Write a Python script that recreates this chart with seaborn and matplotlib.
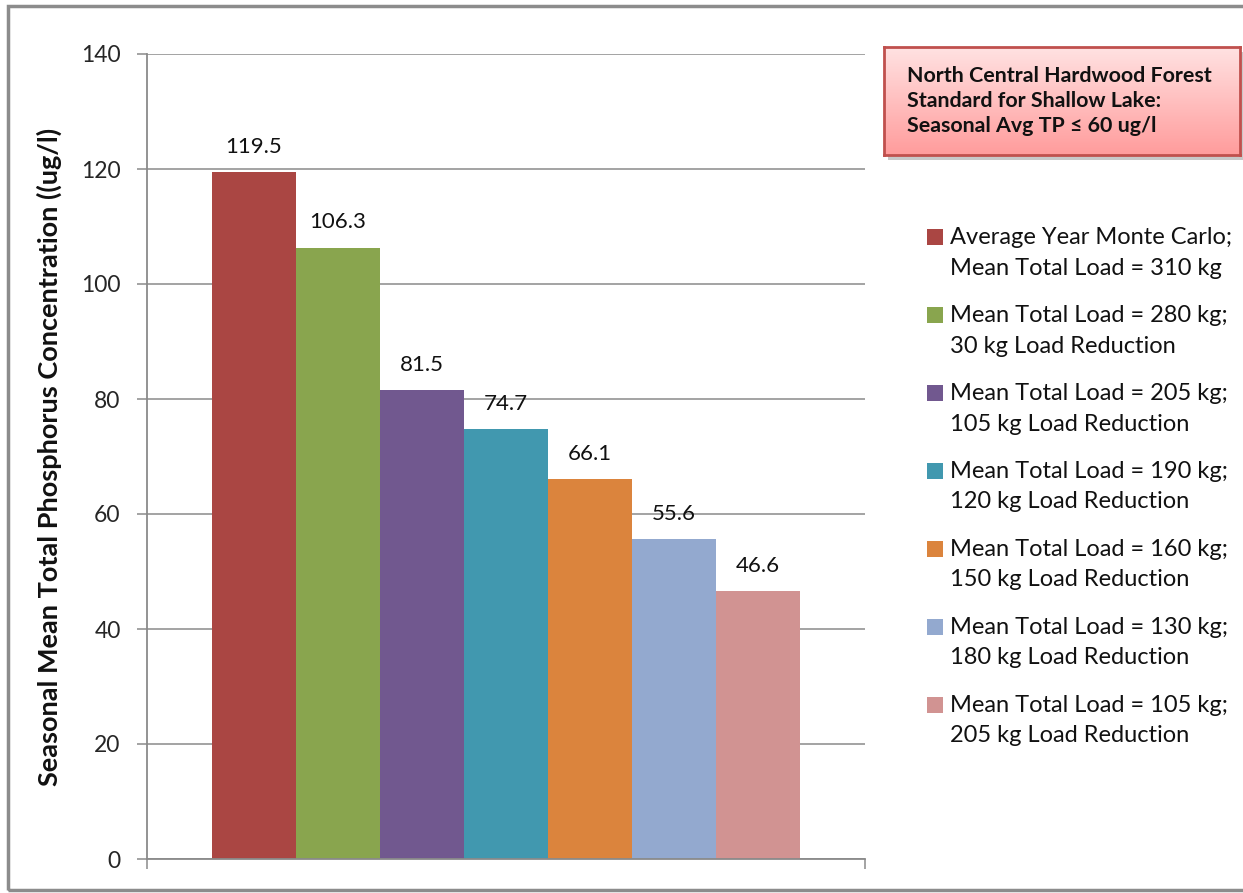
import numpy as np
import pandas as pd
import matplotlib
matplotlib.use("Agg")
import matplotlib.pyplot as plt
import matplotlib.patches as mpatches
from matplotlib.colors import LinearSegmentedColormap
import seaborn as sns

# data
scenarios = [
    "Average Year Monte Carlo;\nMean Total Load = 310 kg",
    "Mean Total Load = 280 kg;\n30 kg Load Reduction",
    "Mean Total Load = 205 kg;\n105 kg Load Reduction",
    "Mean Total Load = 190 kg;\n120 kg Load Reduction",
    "Mean Total Load = 160 kg;\n150 kg Load Reduction",
    "Mean Total Load = 130 kg;\n180 kg Load Reduction",
    "Mean Total Load = 105 kg;\n205 kg Load Reduction",
]
tp_conc = [119.5, 106.3, 81.5, 74.7, 66.1, 55.6, 46.6]
y_ticks = [0, 20, 40, 60, 80, 100, 120, 140]

bar_colors = ["#AA4643", "#89A54E", "#71588F", "#4198AF",
              "#DB843D", "#93A9CF", "#D19392"]

df = pd.DataFrame({"group": ["all"] * len(tp_conc),
                   "scenario": scenarios,
                   "tp": tp_conc})

sns.set_style("white")
plt.rcParams["font.family"] = ["Lato", "DejaVu Sans"]

W, H = 1243, 893
fig = plt.figure(figsize=(W / 100, H / 100), dpi=100)

# outer chart frame
fig.patches.append(mpatches.Rectangle((8 / W, 1 - 890 / H), 1.0, (890 - 6) / H,
                                      transform=fig.transFigure, fill=False,
                                      edgecolor="#8c8c8c", linewidth=2.5))

ax = fig.add_axes([147 / W, 1 - 859 / H, (865 - 147) / W, (859 - 54) / H])
sns.barplot(data=df, x="group", y="tp", hue="scenario", palette=bar_colors,
            hue_order=scenarios, width=0.82, saturation=1, ax=ax,
            linewidth=0, edgecolor="none", legend=False)

for c in ax.containers:
    ax.bar_label(c, fmt="%.1f", padding=11, fontsize=16, color="#111111")

ax.set_ylim(0, 140)
ax.set_xlim(-0.5, 0.5)
ax.set_yticks(y_ticks)
ax.set_xticks([-0.5, 0.5])
ax.set_xticklabels(["", ""])
ax.yaxis.grid(True, color="#8a8a8a", linewidth=1.1)
ax.set_axisbelow(True)
for s in ["top", "right"]:
    ax.spines[s].set_visible(False)
for s in ["left", "bottom"]:
    ax.spines[s].set_color("#8a8a8a")
    ax.spines[s].set_linewidth(1.3)
ax.tick_params(axis="y", length=7, width=1.1, color="#8a8a8a", pad=12,
               labelsize=16.5, left=True)
ax.tick_params(axis="x", length=7, width=1.1, color="#8a8a8a", bottom=True)
ax.set_xlabel("")
ax.set_ylabel("Seasonal Mean Total Phosphorus Concentration ((ug/l)",
              fontsize=19.5, fontweight="bold", color="#111111")
ax.yaxis.set_label_coords((62 - 147) / 718, (859 - 457) / 805)

# legend: square aligned with the first line of each two-line entry (Excel style)
for i, (lab, col) in enumerate(zip(scenarios, bar_colors)):
    y0 = 237 + 78 * i
    fig.patches.append(mpatches.Rectangle((927 / W, 1 - (y0 + 8) / H), 16 / W, 16 / H,
                                          transform=fig.transFigure,
                                          facecolor=col, edgecolor="none"))
    for j, line in enumerate(lab.split("\n")):
        fig.text(950 / W, 1 - (y0 + 31 * j) / H, line, ha="left", va="center",
                 fontsize=17, color="#111111")

# standard note box with pink gradient
shadow = fig.add_axes([(884 + 4) / W, 1 - (155 + 5) / H, (1243 - 884) / W, 108 / H])
shadow.set_facecolor("#c8c8c8")
shadow.set_xticks([]); shadow.set_yticks([])
for s in shadow.spines.values():
    s.set_visible(False)

box = fig.add_axes([884 / W, 1 - 155 / H, (1240 - 884) / W, 108 / H])
grad = np.linspace(0, 1, 100).reshape(-1, 1)
cmap = LinearSegmentedColormap.from_list("pink", ["#ffe2e2", "#ff9c9c"])
box.imshow(grad, aspect="auto", cmap=cmap, extent=[0, 1, 0, 1], origin="upper")
box.set_xticks([]); box.set_yticks([])
for s in box.spines.values():
    s.set_color("#c0504d")
    s.set_linewidth(2)
box.text(0.065, 0.5, "North Central Hardwood Forest\nStandard for Shallow Lake:\nSeasonal Avg TP \u2264 60 ug/l",
         transform=box.transAxes, va="center", ha="left", fontsize=15.4,
         fontweight="bold", linespacing=1.3, color="#111111")

fig.savefig("out.png", dpi=100)
